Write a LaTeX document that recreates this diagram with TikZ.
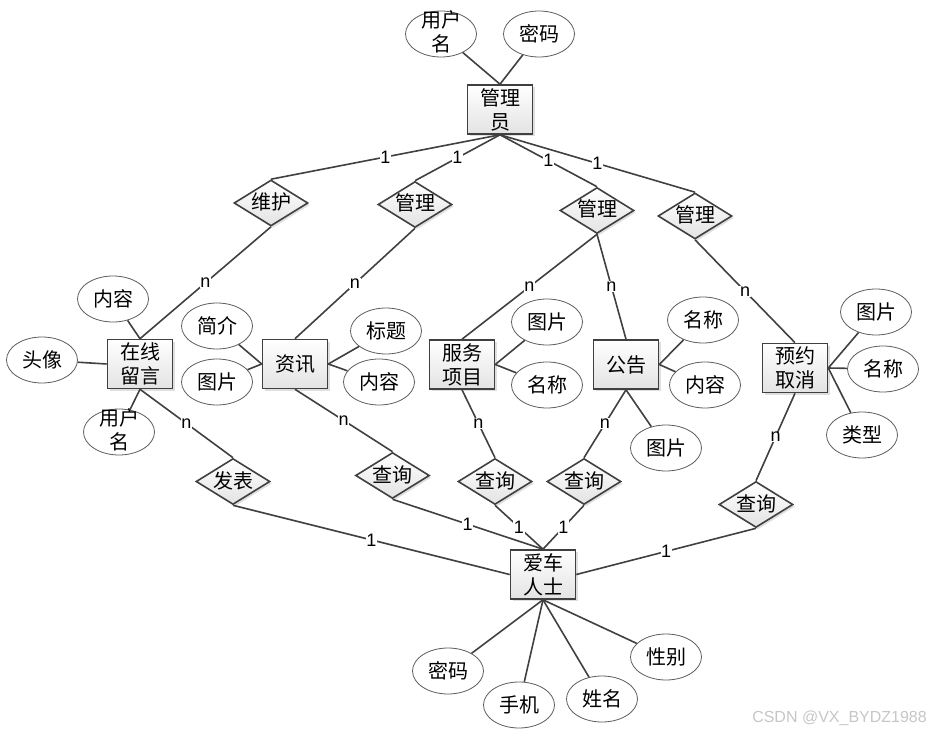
\documentclass[tikz,border=0pt]{standalone}
\usepackage{fontspec}
\setmainfont{Noto Sans CJK SC}
\newfontfamily\labfont{Liberation Sans}
\usetikzlibrary{shapes.geometric,shadows}
\definecolor{ln}{HTML}{404040}
\definecolor{eb}{HTML}{404040}
\newcommand\twoln[2]{\smash{\raisebox{-6pt}{\begin{tabular}{@{}c@{}}#1\\#2\end{tabular}}}}
\tikzset{
  txt/.style={font=\fontsize{20}{24}\selectfont},
  ent/.style={rectangle, draw=eb, line width=1.6pt, top color=white, bottom color=gray!22,
    minimum width=65pt, minimum height=49pt, inner sep=0pt, align=center, txt,
    drop shadow={shadow xshift=2pt, shadow yshift=-2pt, opacity=0.25, fill=gray}},
  rel/.style={diamond, draw=eb, line width=1.6pt, top color=white, bottom color=gray!22,
    shape aspect=1.6, minimum width=74pt, minimum height=46pt, inner sep=0pt, txt,
    text height=16pt, text depth=3pt,
    drop shadow={shadow xshift=2pt, shadow yshift=-2pt, opacity=0.25, fill=gray}},
  attr/.style={ellipse, draw=ln!85, line width=0.8pt, fill=white,
    minimum width=71pt, minimum height=46pt, inner sep=0pt, txt},
  lab/.style={fill=white, inner sep=0.6pt, font=\labfont\fontsize{18}{18}\selectfont},
  conn/.style={draw=ln, line width=1.6pt},
}
\begin{document}
\begin{tikzpicture}[x=1pt,y=-1pt]
\useasboundingbox (0,0) rectangle (930,733);
% entities
\node[ent] (admin) at (500,109.5) {管理\\员};
\node[ent] (msg) at (140,364) {在线\\留言};
\node[ent] (news) at (295,364) {资讯};
\node[ent] (serv) at (462,364.5) {服务\\项目};
\node[ent] (notice) at (626,364.5) {公告};
\node[ent] (book) at (795,368) {预约\\取消};
\node[ent] (user) at (543,574.5) {爱车\\人士};
% relationships
\node[rel] (r1) at (271,203) {维护};
\node[rel] (r2) at (415,204.5) {管理};
\node[rel] (r3) at (597,210.5) {管理};
\node[rel] (r4) at (695,216) {管理};
\node[rel] (q0) at (233,481.5) {发表};
\node[rel] (q1) at (392.5,475.5) {查询};
\node[rel] (q2) at (495,481.5) {查询};
\node[rel] (q3) at (584,481.5) {查询};
\node[rel] (q4) at (756,504.5) {查询};
% attributes
\node[attr] (a1) at (441,34) {\twoln{用户}{名}};
\node[attr] (a2) at (539,34) {密码};
\node[attr] (m1) at (113,299) {内容};
\node[attr] (m2) at (42,360) {头像};
\node[attr] (m3) at (119,432) {\twoln{用户}{名}};
\node[attr] (n1) at (217,326) {简介};
\node[attr] (n2) at (217,382) {图片};
\node[attr] (n3) at (386,331) {标题};
\node[attr] (n4) at (379,382) {内容};
\node[attr] (s1) at (547,322) {图片};
\node[attr] (s2) at (547,385) {名称};
\node[attr] (g1) at (703,320) {名称};
\node[attr] (g2) at (705,385) {内容};
\node[attr] (g3) at (666,448) {图片};
\node[attr] (b1) at (876,312) {图片};
\node[attr] (b2) at (883,369) {名称};
\node[attr] (b3) at (862,435) {类型};
\node[attr] (u1) at (448,671) {密码};
\node[attr] (u2) at (519,705) {手机};
\node[attr] (u3) at (602,699) {姓名};
\node[attr] (u4) at (666,657) {性别};
% attribute links
\draw[conn] (a1) -- (admin.north);
\draw[conn] (a2) -- (admin.north);
\draw[conn] (m1) -- (msg.north);
\draw[conn] (m2) -- (msg.west);
\draw[conn] (m3) -- (msg.south);
\draw[conn] (n1) -- (news.west);
\draw[conn] (n2) -- (news.west);
\draw[conn] (n3) -- (news.east);
\draw[conn] (n4) -- (news.east);
\draw[conn] (s1) -- (serv.east);
\draw[conn] (s2) -- (serv.east);
\draw[conn] (g1) -- (notice.east);
\draw[conn] (g2) -- (notice.east);
\draw[conn] (g3) -- (notice.south);
\draw[conn] (b1) -- (book.east);
\draw[conn] (b2) -- (book.east);
\draw[conn] (b3) -- (book.east);
\draw[conn] (u1) -- (user.south);
\draw[conn] (u2) -- (user.south);
\draw[conn] (u3) -- (user.south);
\draw[conn] (u4) -- (user.south);
% relationship links
\draw[conn] (admin.south) -- node[lab]{1} (r1.north);
\draw[conn] (admin.south) -- node[lab]{1} (r2.north);
\draw[conn] (admin.south) -- node[lab]{1} (r3.north);
\draw[conn] (admin.south) -- node[lab]{1} (r4.north);
\draw[conn] (r1.south) -- node[lab]{n} (msg.north);
\draw[conn] (r2.south) -- node[lab]{n} (news.north);
\draw[conn] (r3.south) -- node[lab]{n} (serv.north);
\draw[conn] (r3.south) -- node[lab]{n} (notice.north);
\draw[conn] (r4.south) -- node[lab]{n} (book.north);
\draw[conn] (msg.south) -- node[lab]{n} (q0.north);
\draw[conn] (q0.south) -- node[lab]{1} (user.west);
\draw[conn] (news.south) -- node[lab]{n} (q1.north);
\draw[conn] (q1.south) -- node[lab]{1} (user.north);
\draw[conn] (serv.south) -- node[lab]{n} (q2.north);
\draw[conn] (q2.south) -- node[lab]{1} (user.north);
\draw[conn] (notice.south) -- node[lab]{n} (q3.north);
\draw[conn] (q3.south) -- node[lab]{1} (user.north);
\draw[conn] (book.south) -- node[lab]{n} (q4.north);
\draw[conn] (q4.south) -- node[lab]{1} (user.east);
% watermark
\node[anchor=east, text=gray!45, font=\labfont\fontsize{16}{16}\selectfont, inner sep=0pt] (wm) at (927,718) {CSDN @VX\_BYDZ1988};
\end{tikzpicture}
\end{document}
